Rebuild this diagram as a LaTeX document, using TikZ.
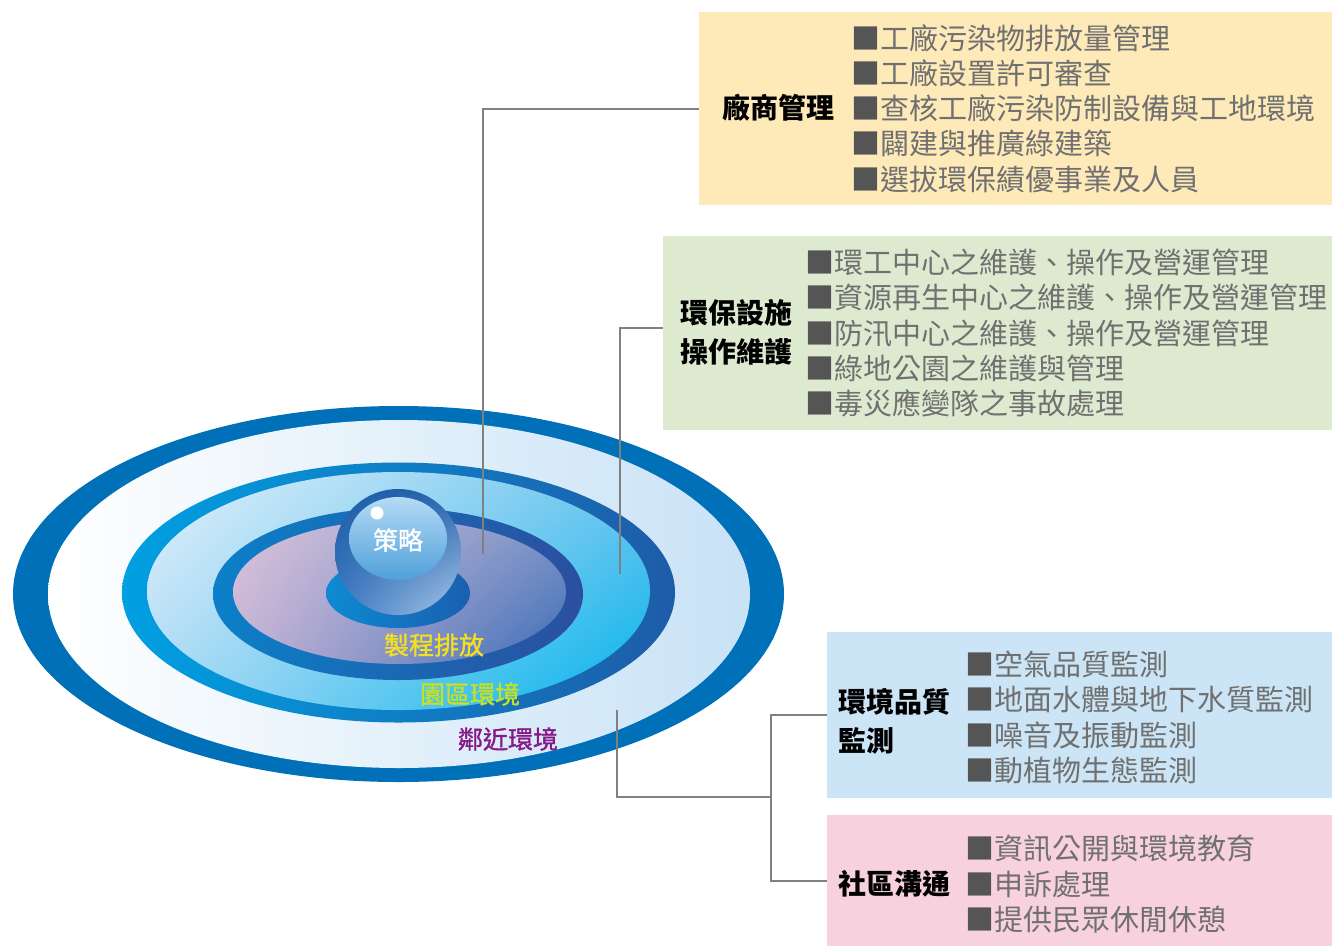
\documentclass[tikz,border=0pt]{standalone}
\usepackage{fontspec}
\newfontfamily\cjk{Noto Sans CJK TC}
\newfontfamily\cjkmid[FakeBold=1.2]{Noto Sans CJK TC}
\usetikzlibrary{calc, shadings}

\definecolor{outerblue}{RGB}{0,112,184}
\definecolor{paleblue}{RGB}{200,226,246}
\definecolor{midcyan}{RGB}{0,160,226}
\definecolor{midnavy}{RGB}{30,92,168}
\definecolor{midUL}{RGB}{226,241,251}
\definecolor{midUR}{RGB}{110,196,238}
\definecolor{midLL}{RGB}{170,216,244}
\definecolor{midLR}{RGB}{0,180,236}
\definecolor{coreblue}{RGB}{11,128,200}
\definecolor{corenavy}{RGB}{43,79,159}
\definecolor{plumUL}{RGB}{219,195,219}
\definecolor{plumUR}{RGB}{127,149,200}
\definecolor{plumLL}{RGB}{196,179,213}
\definecolor{plumLR}{RGB}{59,108,182}
\definecolor{baseleft}{RGB}{14,138,210}
\definecolor{baseright}{RGB}{26,95,175}
\definecolor{ballUL}{RGB}{27,92,168}
\definecolor{ballUR}{RGB}{39,99,172}
\definecolor{ballLL}{RGB}{62,120,192}
\definecolor{ballLR}{RGB}{169,201,234}
\definecolor{glosstop}{RGB}{180,219,245}
\definecolor{glossbot}{RGB}{80,160,218}
\definecolor{linkgray}{RGB}{128,128,128}
\definecolor{itemgray}{RGB}{112,112,112}
\definecolor{bulletgray}{RGB}{85,85,85}
\definecolor{mgmtfill}{RGB}{254,234,185}
\definecolor{opsfill}{RGB}{222,234,208}
\definecolor{monfill}{RGB}{204,229,246}
\definecolor{commfill}{RGB}{248,209,222}
\definecolor{procyellow}{RGB}{245,225,27}
\definecolor{parkgreen}{RGB}{200,225,30}
\definecolor{nearpurple}{RGB}{135,25,135}

\newcommand{\bul}{\textcolor{bulletgray}{■}}

\tikzset{
	link/.style={draw=linkgray, line width=2.4pt},
	panel/.style={anchor=north west, inner sep=0pt, draw=none},
	heading/.style={font=\cjk\bfseries\fontsize{28}{39}\selectfont, align=left, anchor=west, inner sep=0pt},
	items/.style={font=\cjk\fontsize{29}{35.2}\selectfont, text=itemgray, align=left, anchor=west, inner sep=0pt},
	ringlabel/.style={font=\cjkmid\fontsize{25}{25}\selectfont, inner sep=0pt},
}

\begin{document}
\begin{tikzpicture}[x=1pt,y=-1pt]
	\useasboundingbox (0,0) rectangle (1332,946);

	% outer ring
	\fill[outerblue] (398.5,594) ellipse (385.5 and 188);
	\shade[left color=white, right color=paleblue] (399,594) ellipse (351 and 174);

	% middle ring
	\shade[left color=midcyan, right color=midnavy] (398.5,592.5) ellipse (276.5 and 130);
	\shade[upper left=midUL, upper right=midUR, lower left=midLL, lower right=midLR]
		(398.5,591) ellipse (251.5 and 119);

	% inner ring
	\shade[left color=coreblue, right color=corenavy] (398,594) ellipse (185 and 86);
	\shade[upper left=plumUL, upper right=plumUR, lower left=plumLL, lower right=plumLR]
		(399.5,592) ellipse (166.5 and 72);

	% sphere and its base
	\shade[left color=baseleft, right color=baseright] (398,593) ellipse (72 and 35);
	\shade[upper left=ballUL, upper right=ballUR, lower left=ballLL, lower right=ballLR]
		(398,552) circle (63);
	\shade[top color=glosstop, bottom color=glossbot] (398,538.5) ellipse (49 and 41.5);
	\fill[white] (377,513) circle (6.5);

	\node[ringlabel, text=white] (core) at (398,540) {策略};
	\node[ringlabel, text=procyellow] (proc) at (434,645) {製程排放};
	\node[ringlabel, text=parkgreen] (park) at (470,694) {園區環境};
	\node[ringlabel, text=nearpurple] (near) at (508,739) {鄰近環境};

	% panels
	\node[panel, fill=mgmtfill, minimum width=633pt, minimum height=193pt] (mgmt) at (699,12) {};
	\node[panel, fill=opsfill, minimum width=669pt, minimum height=194pt] (ops) at (663,236) {};
	\node[panel, fill=monfill, minimum width=505pt, minimum height=166pt] (mon) at (827,632) {};
	\node[panel, fill=commfill, minimum width=505pt, minimum height=131pt] (comm) at (827,815) {};

	\node[heading] (mgmt-t) at (722,108) {廠商管理};
	\node[items] (mgmt-l) at (851,108.5) {\bul 工廠污染物排放量管理\\\bul 工廠設置許可審查\\\bul 查核工廠污染防制設備與工地環境\\\bul 闢建與推廣綠建築\\\bul 選拔環保績優事業及人員};

	\node[heading] (ops-t) at (680,332.5) {環保設施\\操作維護};
	\node[items] (ops-l) at (805,333) {\bul 環工中心之維護、操作及營運管理\\\bul 資源再生中心之維護、操作及營運管理\\\bul 防汛中心之維護、操作及營運管理\\\bul 綠地公園之維護與管理\\\bul 毒災應變隊之事故處理};

	\node[heading] (mon-t) at (838,721.5) {環境品質\\監測};
	\node[items] (mon-l) at (965,717.5) {\bul 空氣品質監測\\\bul 地面水體與地下水質監測\\\bul 噪音及振動監測\\\bul 動植物生態監測};

	\node[heading] (comm-t) at (838,884) {社區溝通};
	\node[items] (comm-l) at (965,884) {\bul 資訊公開與環境教育\\\bul 申訴處理\\\bul 提供民眾休閒休憩};

	% connectors
	\coordinate (mgmt-end) at (483,554);
	\coordinate (ops-end) at (620,574);
	\coordinate (mon-end) at (617,710);
	\coordinate (bus) at (771,797);
	\draw[link] (mgmt-end) |- (mgmt.west);
	\draw[link] (ops-end) |- ([yshift=5pt]ops.west);
	\draw[link] (mon-end) |- (bus);
	\draw[link] (mon.west) -| (bus) |- (comm.west);
\end{tikzpicture}
\end{document}
